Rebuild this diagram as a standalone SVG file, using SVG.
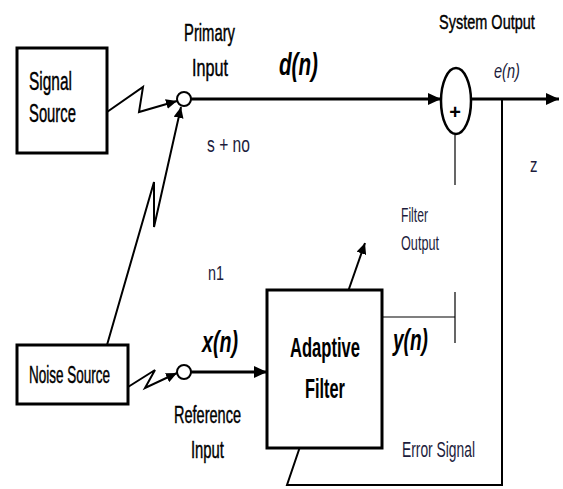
<svg xmlns="http://www.w3.org/2000/svg" width="563" height="489" viewBox="0 0 563 489">
<style>
.box{fill:#fff;stroke:#000;stroke-width:3}
.lbl{font-family:"Liberation Sans",Arial,sans-serif;fill:#000;stroke:#000;stroke-width:0.45}
.thin{font-family:"Liberation Sans",Arial,sans-serif;fill:#1c1c3c}
.big{font-family:"Liberation Sans",Arial,sans-serif;font-weight:bold;fill:#000}
.sym{font-family:"Liberation Sans",Arial,sans-serif;font-weight:bold;font-style:italic;fill:#000}
.w{fill:none;stroke:#000;stroke-width:3}
.m{fill:none;stroke:#000;stroke-width:2}
.t{fill:none;stroke:#000;stroke-width:1.2}
</style>
<defs>
<marker id="ah" markerUnits="userSpaceOnUse" markerWidth="14" markerHeight="12" refX="13" refY="6" orient="auto">
<path d="M0,0 L13,6 L0,12 Z" fill="#000"/>
</marker>
<marker id="as" markerUnits="userSpaceOnUse" markerWidth="12" markerHeight="10" refX="11" refY="5" orient="auto">
<path d="M0,0 L11,5 L0,10 Z" fill="#000"/>
</marker>
</defs>
<g id="connectors">
<path class="m" d="M107,112 L143,87 L139,112 L177,101" marker-end="url(#as)"/>
<path class="m" d="M107,345 L154,182 L154,227 L181,107" marker-end="url(#as)"/>
<path class="m" d="M128,387 L155,370 L145,388 L177,373" marker-end="url(#as)"/>
<path class="w" d="M191,99 L441,99" marker-end="url(#ah)"/>
<path class="w" d="M471,99 L559,99" marker-end="url(#ah)"/>
<path class="w" d="M191,372 L267,372" marker-end="url(#ah)"/>
<path class="m" d="M343,306 L365,243" marker-end="url(#as)"/>
<path class="t" d="M455,135 L455,185"/>
<path class="t" d="M455,292 L455,343"/>
<path class="t" d="M377,317 L455,317"/>
<path class="m" d="M502,99 L502,485 L287,485 L305,432"/>
</g>
<g id="signal-source">
<rect class="box" x="17" y="48" width="90" height="105"/>
<text class="lbl" transform="translate(29,90) scale(0.595,1)" font-size="26">Signal</text>
<text class="lbl" transform="translate(29,122) scale(0.57,1)" font-size="26">Source</text>
</g>
<g id="primary-input">
<circle cx="184" cy="99" r="7" fill="#fff" stroke="#000" stroke-width="2"/>
<text class="lbl" transform="translate(184,41) scale(0.617,1)" font-size="24">Primary</text>
<text class="lbl" transform="translate(192,76) scale(0.674,1)" font-size="24">Input</text>
<text class="thin" transform="translate(207,152) scale(0.71,1)" font-size="22">s + no</text>
</g>
<g id="d-label">
<text class="sym" transform="translate(279,75) scale(0.646,1)" font-size="32">d(n)</text>
</g>
<g id="summer">
<ellipse cx="456" cy="101" rx="15" ry="33" fill="#fff" stroke="#000" stroke-width="2.5"/>
<text x="455" y="119" font-family="Liberation Sans,Arial,sans-serif" font-weight="bold" font-size="20" text-anchor="middle">+</text>
</g>
<g id="system-output">
<text class="lbl" transform="translate(439,29) scale(0.691,1)" font-size="21">System Output</text>
<text class="thin" transform="translate(494,78) scale(0.73,1)" font-size="20" font-style="italic">e(n)</text>
<text class="thin" transform="translate(530,172) scale(0.75,1)" font-size="20">z</text>
</g>
<g id="filter-output-label">
<text class="thin" transform="translate(401,222) scale(0.578,1)" font-size="21">Filter</text>
<text class="thin" transform="translate(401,250) scale(0.603,1)" font-size="21">Output</text>
</g>
<g id="n1-label">
<text class="thin" transform="translate(208,280) scale(0.684,1)" font-size="21">n1</text>
</g>
<g id="noise-source">
<rect class="box" x="17" y="345" width="111" height="59"/>
<text class="lbl" transform="translate(29,383) scale(0.5625,1)" font-size="24">Noise Source</text>
</g>
<g id="reference-input">
<circle cx="184" cy="372" r="7" fill="#fff" stroke="#000" stroke-width="2"/>
<text class="lbl" transform="translate(174,423) scale(0.605,1)" font-size="24">Reference</text>
<text class="lbl" transform="translate(191,458) scale(0.618,1)" font-size="24">Input</text>
<text class="sym" transform="translate(202,352) scale(0.677,1)" font-size="29">x(n)</text>
</g>
<g id="adaptive-filter">
<rect class="box" x="267" y="290" width="115" height="158"/>
<text class="big" transform="translate(290,357) scale(0.592,1)" font-size="28">Adaptive</text>
<text class="big" transform="translate(305,398) scale(0.584,1)" font-size="28">Filter</text>
</g>
<g id="y-label">
<text class="sym" transform="translate(393,350) scale(0.658,1)" font-size="29">y(n)</text>
</g>
<g id="error-signal">
<text class="thin" transform="translate(402,457) scale(0.629,1)" font-size="22">Error Signal</text>
</g>
</svg>
